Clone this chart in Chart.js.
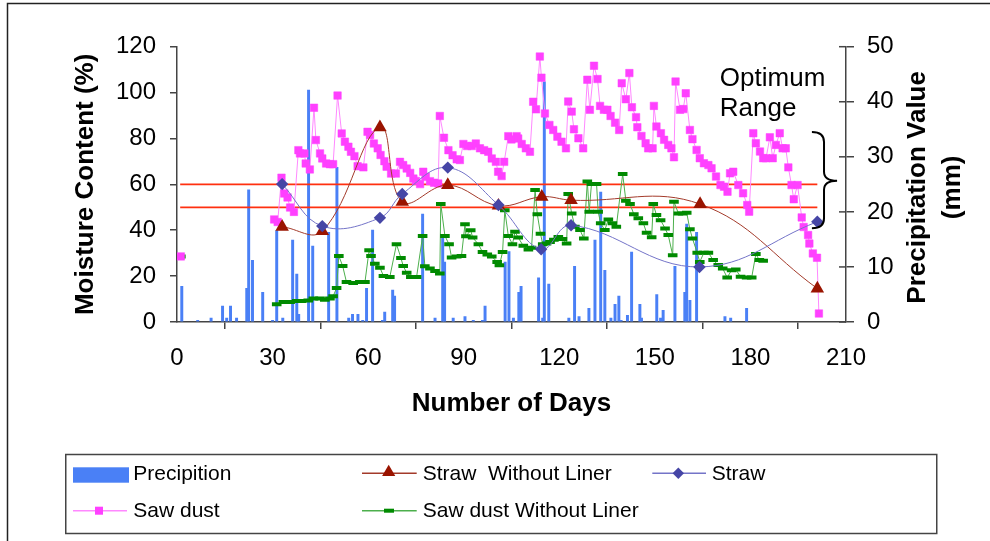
<!DOCTYPE html>
<html>
<head>
<meta charset="utf-8">
<script src="https://cdn.jsdelivr.net/npm/chart.js@4/dist/chart.umd.min.js"></script>
<style>
html,body{margin:0;padding:0;background:#fff;}
#wrap{position:relative;width:990px;height:541px;overflow:hidden;}
canvas{display:block;}
</style>
</head>
<body>
<div id="wrap"><canvas id="c" width="990" height="541"></canvas></div>
<script>
// ---------- DATA ----------
const xTickLabels = [0, 30, 60, 90, 120, 150, 180, 210];

const precipDays = [1.5,6.5,10.7,14.3,15.6,16.8,18.7,21.9,22.5,23.7,26.9,30,31.3,33.2,36.3,37.6,38.2,41.3,42.6,47.6,50.2,53.9,55.1,56.8,58.3,59.5,61.4,64.5,65.2,67.7,68.3,77.1,81,83.4,84,86.7,90.4,93,95.9,96.7,103,104.2,105.6,107.3,108,113.5,114.8,115.3,116.7,123,124.8,126.2,129.3,131.2,133,134.3,136.2,137.5,138.7,139.4,141.4,142.7,145.3,145.8,150.6,151.8,152.6,156.3,159.4,160,161,163.1,172,173.8,178.8];
const precipMm   = [6.5,0.3,0.7,2.9,0.7,2.9,0.7,6.1,24,11.2,5.4,0.3,16.6,0.7,14.9,8.7,1.4,42.1,13.8,16.3,28.1,0.7,1.4,1.4,0.3,6.1,16.7,0.3,1.8,5.8,4.7,19.6,0.7,15.9,10.9,0.7,1.0,0.3,0.3,2.9,10.9,12.8,0.7,5.4,6.5,8,0.7,43.6,6.9,0.7,10.1,1.0,2.5,14.9,23.6,9.4,0.7,3.2,4.7,0.3,1.2,12.7,3.2,0.7,5.0,0.7,2.1,10.1,5.4,17.8,3.95,16.3,1.0,0.7,2.5];

const strawNoLinerDays = [33,45.6,63.7,70.7,85,100.9,114.5,123.7,164.2,201];
const strawNoLinerMoisture = [41.5,39.6,84.9,52.4,59.7,50.7,54.6,53.1,51.4,14.6];

const strawDays = [33,45.6,63.7,70.7,85,100.9,114.3,123.7,164,201];
const strawMoisture = [60.1,41.8,45.4,55.8,67.3,51,31.7,42.2,24,43.7];

const sawDustDays = [1.2,2,30.5,31.6,32.8,33.7,34.7,35.5,36.7,38.1,38.6,40,40.4,41.7,43,43.6,44.9,45.6,46.8,48,49,50.4,51.7,52.7,53.8,54.6,55.7,56.7,58.5,59.8,60.6,61.8,63,63.9,65.1,65.8,67.2,68.7,70,71,72.1,73.2,74.2,75,76.3,77.3,78.1,79.4,80.7,82,82.5,83.8,85.2,86.5,87.8,88.8,89.9,91.1,92.5,93.8,95.1,96.4,97.7,98.8,100.1,100.8,101.9,102.7,104,105,106.6,107.1,108.2,109.5,110.8,111.8,112.7,113.9,114.4,115.5,116.9,118.1,119.4,120.7,122.1,122.8,123.9,124.6,126,127.5,128.8,129.6,130.9,132,132.8,134,135.1,136.1,137.5,138.8,139.6,140.9,142,142.8,144.1,144.5,145.8,147.1,147.9,149.3,149.7,150.5,151.9,152.9,154.2,155.2,156,156.5,157.9,158.9,159.7,161,161.8,163.1,164.1,165.4,166.8,167.8,169.2,170.6,171.7,172.8,173.6,174.6,176.2,177.7,179,179.6,180.9,181.7,183,184,184.9,186.1,187,188,189.2,190.1,191.1,191.9,192.9,193.6,194.8,196.1,196.7,198.1,198.5,199.6,200.9,201.5];
const sawDustMoisture = [28.6,null,44.7,43.6,62.9,56,54.3,49.9,48,74.9,73.5,73.5,69.1,66.5,93.4,79.3,73.5,71.3,69.1,68.8,68.8,98.7,82.2,78.6,76.4,74.2,72.3,67.9,67.4,82.9,81.5,77.8,75.7,72.8,70.1,67.7,64.7,64.7,69.8,68.4,66.9,65,62.5,61.5,60.1,65.5,63.3,61.4,60.7,60.4,89.8,80.3,74.9,72.7,70.9,70.6,77.6,76.7,76.7,77.8,75.7,74.9,74.2,71.3,69.8,65.5,63.6,69.8,81,79.6,81,80,77.6,75.7,74.2,96,92.7,115.7,106.5,90.9,85.9,83.7,80.8,78.6,75.7,96.1,91.7,84,80.1,75.7,105.6,92.5,111.7,105.9,94.2,92.5,92.5,89.8,86.9,83.7,104.1,97.1,108.5,93.6,89.3,84.9,81.1,77.9,75.7,75.7,94.2,85.2,82.3,79.4,77.2,75.7,71.8,104.8,92.5,92.8,99.7,83.7,79.7,75,71.4,69.2,68.4,67,63.4,59.7,59,56.8,64.8,65.5,59.7,56.1,51,48.1,82.3,77.9,74.3,71.4,71.4,80.5,71.4,77.2,82.3,75.7,75.7,67.4,59.7,53.5,59.7,45.6,41.4,37.9,34.2,29.9,28,3.7];

const sawDustNoLinerDays = [1.2,2,31.3,33.4,35.5,37.6,39.1,41.2,42.8,44.9,46.4,48,49,50.1,50.8,52,53.2,55.3,57.4,59,60.3,60.9,62.1,63.7,64.8,66.8,68.9,70.3,71,72.1,73.4,75.2,77.1,77.8,79.4,81,82.5,82.8,84.1,85.4,86.2,87.8,89.3,90.4,90.7,92.2,92.8,94.6,95.9,97.4,98.8,100.5,101.2,102.2,102.9,104,105.3,106.1,107.1,108.7,110.3,111.3,112.4,113.1,114.1,114.8,116,117.1,118.3,119.7,121,122.3,122.8,123.9,124.9,126.5,127.7,128.8,129.4,130.1,131.7,132.2,133,134.3,135.4,136.7,137.9,139.9,140.9,142.2,143.4,144.8,146.4,147.4,149,149.5,150.5,151.8,153.2,154.2,155.6,156,157.4,158.7,160,161,161.8,163.3,164.1,165.4,166.8,168.3,169.9,171.3,172.7,174.1,175.4,176.9,178.8,180.4,181.7,182.8,184];
const sawDustNoLinerMoisture = [28.6,null,7.7,8.7,8.7,9.1,9.1,9.4,10.2,10.2,9.7,10.2,11.2,14.8,28.8,24.4,17.4,17,17.4,17.4,31.3,28.8,25.4,23.7,20.1,19.6,33.9,27.9,24.4,21.5,19.6,19.6,37.5,24.3,23.3,22.2,21.1,51.4,37.5,33.9,28.1,28.6,28.8,42.6,37.4,40,36.8,33.9,30.5,29.4,28.6,26.2,24.7,30.5,48.7,37.5,33.9,39.3,36.8,33.2,31.6,32.4,57.5,47,38.5,33.9,34.2,34.9,35.9,37.1,36.2,34.2,55.8,47.3,41.5,40.1,36.4,61.2,48.1,60.2,60.2,48.1,43,40.1,44.7,43,41.5,64.5,52.9,51.4,47,45.2,43,38.9,36.9,51.4,46.6,44.4,40.8,37.9,29.1,52.4,47.3,47.3,47.6,40.4,36.4,30.2,26.2,30.2,30.2,27,24.8,23.3,19.4,22.6,22.9,19.7,19.4,19.4,29.6,27,26.7];

const optimumLimits = [60, 50];
const optimumLineDays = [1, 201];

const seriesNames = ['Precipition', 'Straw  Without Liner', 'Straw', 'Saw dust', 'Saw dust Without Liner'];

// ---------- HELPERS ----------
const FONT = "'Liberation Sans', Arial, Helvetica, sans-serif";
const pts = (xs, ys) => xs.map((x, i) => ({x: x, y: ys[i]}));

const COL = {
  precip: '#4a80f6',
  pinkLine: '#ff88ff', pinkPt: '#ff40ff',
  greenLine: '#4caf4c', greenPt: '#008a00',
  redLine: '#a33a2a', redPt: '#9a1400',
  blueLine: '#7474c8', bluePt: '#4646a6',
  optimum: '#ff3010', axis: '#444444'
};

function tri(ctx, x, y, r) {
  ctx.beginPath();
  for (let k = 0; k < 3; k++) {
    const a = -Math.PI / 2 + k * 2 * Math.PI / 3;
    const px = x + Math.cos(a) * r, py = y + Math.sin(a) * r;
    if (k === 0) ctx.moveTo(px, py); else ctx.lineTo(px, py);
  }
  ctx.closePath(); ctx.fill();
}

const decor = {
  id: 'decor',
  afterDraw(chart) {
    const ctx = chart.ctx;
    const xs = chart.scales.x, ys = chart.scales.y, y2 = chart.scales.y2;
    ctx.save();
    // inward part of right-axis ticks
    ctx.strokeStyle = COL.axis; ctx.lineWidth = 1.5;
    y2.ticks.forEach(t => {
      const py = y2.getPixelForValue(t.value);
      ctx.beginPath(); ctx.moveTo(y2.left - 7, py); ctx.lineTo(y2.left, py); ctx.stroke();
    });
    // right axis title (reads bottom to top)
    ctx.fillStyle = '#000';
    ctx.font = 'bold 26px ' + FONT;
    ctx.textAlign = 'center'; ctx.textBaseline = 'middle';
    const cy = (ys.top + ys.bottom) / 2 + 3;
    ctx.save(); ctx.translate(918, cy); ctx.rotate(-Math.PI / 2);
    ctx.fillText('Precipitation Value', 0, 0); ctx.restore();
    ctx.save(); ctx.translate(953, cy); ctx.rotate(-Math.PI / 2);
    ctx.fillText('(mm)', 0, 0); ctx.restore();

    // Optimum Range label
    ctx.font = '26px ' + FONT;
    ctx.textAlign = 'left'; ctx.textBaseline = 'alphabetic';
    ctx.fillText('Optimum', xs.getPixelForValue(170.4), ys.getPixelForValue(102.7));
    ctx.fillText('Range', xs.getPixelForValue(170.4), ys.getPixelForValue(89.6));

    // curly brace
    const bx0 = xs.getPixelForValue(199.3), bxm = xs.getPixelForValue(203.1), bxt = xs.getPixelForValue(207.2);
    const byT = ys.getPixelForValue(82.8), byM = ys.getPixelForValue(61.6), byB = ys.getPixelForValue(40.9);
    ctx.strokeStyle = '#000'; ctx.lineWidth = 2;
    ctx.beginPath();
    ctx.moveTo(bx0, byT);
    ctx.quadraticCurveTo(bxm, byT, bxm, byT + 10);
    ctx.lineTo(bxm, byM - 9);
    ctx.quadraticCurveTo(bxm, byM, bxt, byM);
    ctx.quadraticCurveTo(bxm, byM, bxm, byM + 9);
    ctx.lineTo(bxm, byB - 10);
    ctx.quadraticCurveTo(bxm, byB, bx0, byB);
    ctx.stroke();

    // outer frame (left and top edges)
    ctx.strokeStyle = '#222'; ctx.lineWidth = 1.5;
    ctx.beginPath(); ctx.moveTo(7.5, 545); ctx.lineTo(7.5, 3.5); ctx.lineTo(995, 3.5); ctx.stroke();

    // legend box
    ctx.strokeStyle = '#444'; ctx.lineWidth = 1.5;
    ctx.strokeRect(65.75, 454.5, 871, 79);
    ctx.font = '21px ' + FONT; ctx.fillStyle = '#000';
    ctx.textAlign = 'left'; ctx.textBaseline = 'alphabetic';
    const r1 = 473.3, r2 = 510.7, b1 = 479.5, b2 = 517.3;
    // Precipition
    ctx.fillStyle = COL.precip; ctx.fillRect(73, 467.3, 56, 15.4);
    ctx.fillStyle = '#000'; ctx.fillText(seriesNames[0], 133.3, b1);
    // Saw dust
    ctx.strokeStyle = COL.pinkLine; ctx.lineWidth = 1.5;
    ctx.beginPath(); ctx.moveTo(73, r2); ctx.lineTo(127, r2); ctx.stroke();
    ctx.fillStyle = COL.pinkPt; ctx.fillRect(95, r2 - 4, 8, 8);
    ctx.fillStyle = '#000'; ctx.fillText(seriesNames[3], 133.3, b2);
    // Straw Without Liner
    ctx.strokeStyle = COL.redLine; ctx.lineWidth = 1.5;
    ctx.beginPath(); ctx.moveTo(362, r1); ctx.lineTo(416.7, r1); ctx.stroke();
    ctx.fillStyle = COL.redPt; tri(ctx, 388.7, r1 - 1, 7.6);
    ctx.fillStyle = '#000'; ctx.fillText(seriesNames[1], 422.7, b1);
    // Saw dust Without Liner
    ctx.strokeStyle = COL.greenLine; ctx.lineWidth = 1.5;
    ctx.beginPath(); ctx.moveTo(362, r2); ctx.lineTo(416.7, r2); ctx.stroke();
    ctx.fillStyle = COL.greenPt; ctx.fillRect(384, r2 - 2, 10, 4);
    ctx.fillStyle = '#000'; ctx.fillText(seriesNames[4], 422.7, b2);
    // Straw
    ctx.strokeStyle = COL.blueLine; ctx.lineWidth = 1.5;
    ctx.beginPath(); ctx.moveTo(652.3, r1); ctx.lineTo(706, r1); ctx.stroke();
    ctx.fillStyle = COL.bluePt;
    ctx.beginPath(); ctx.moveTo(678.3, r1 - 5.7); ctx.lineTo(684, r1); ctx.lineTo(678.3, r1 + 5.7); ctx.lineTo(672.6, r1); ctx.closePath(); ctx.fill();
    ctx.fillStyle = '#000'; ctx.fillText(seriesNames[2], 711.7, b1);
    ctx.restore();
  }
};

const tickFont = {family: FONT, size: 24};
const titleFont = {family: FONT, size: 26, weight: 'bold'};

new Chart(document.getElementById('c'), {
  type: 'line',
  data: {
    datasets: [
      {
        type: 'bar', label: seriesNames[0], yAxisID: 'y2',
        data: pts(precipDays, precipMm),
        backgroundColor: COL.precip, barThickness: 2.3, order: 10
      },
      {
        label: 'opt60', data: pts(optimumLineDays, [optimumLimits[0], optimumLimits[0]]),
        borderColor: COL.optimum, borderWidth: 1.8, pointRadius: 0, order: 9
      },
      {
        label: 'opt50', data: pts(optimumLineDays, [optimumLimits[1], optimumLimits[1]]),
        borderColor: COL.optimum, borderWidth: 1.8, pointRadius: 0, order: 9
      },
      {
        label: seriesNames[4], data: pts(sawDustNoLinerDays, sawDustNoLinerMoisture),
        borderColor: COL.greenLine, borderWidth: 1, tension: 0,
        pointStyle: 'line', pointRadius: 4.8, pointBorderWidth: 4,
        pointBorderColor: COL.greenPt, pointBackgroundColor: COL.greenPt, order: 5
      },
      {
        label: seriesNames[3], data: pts(sawDustDays, sawDustMoisture),
        borderColor: COL.pinkLine, borderWidth: 1, tension: 0,
        pointStyle: 'rect', pointRadius: 5.3, pointBorderWidth: 0.5,
        pointBorderColor: COL.pinkPt, pointBackgroundColor: COL.pinkPt, order: 4
      },
      {
        label: seriesNames[1], data: pts(strawNoLinerDays, strawNoLinerMoisture),
        borderColor: COL.redLine, borderWidth: 1, tension: 0.4,
        pointStyle: 'triangle', pointRadius: 7.8, pointBorderWidth: 0,
        pointBackgroundColor: COL.redPt, pointBorderColor: COL.redPt, order: 3
      },
      {
        label: seriesNames[2], data: pts(strawDays, strawMoisture),
        borderColor: COL.blueLine, borderWidth: 1, tension: 0.4,
        pointStyle: 'rectRot', pointRadius: 6.2, pointBorderWidth: 0,
        pointBackgroundColor: COL.bluePt, pointBorderColor: COL.bluePt, order: 2
      }
    ]
  },
  options: {
    responsive: false, animation: false, events: [],
    layout: {padding: {left: 0, right: 0, top: 46.7, bottom: 110}},
    plugins: {legend: {display: false}, tooltip: {enabled: false}},
    scales: {
      x: {
        type: 'linear', min: 0, max: 210, offset: false,
        afterBuildTicks(s) { s.ticks = xTickLabels.map(v => ({value: v})); },
        ticks: {font: tickFont, color: '#000', padding: 15, maxRotation: 0},
        grid: {drawOnChartArea: false, tickLength: 7, color: COL.axis, lineWidth: 1.5},
        border: {color: COL.axis, width: 1.5},
        title: {display: true, text: 'Number of Days', font: titleFont, color: '#000', padding: {top: 0, bottom: 11.4}},
        afterFit(s) { s.height = 541 - 110 - 322; }
      },
      y: {
        position: 'left', min: 0, max: 120,
        ticks: {stepSize: 20, font: tickFont, color: '#000', padding: 14},
        grid: {drawOnChartArea: false, tickLength: 7, color: COL.axis, lineWidth: 1.5},
        border: {color: COL.axis, width: 1.5},
        title: {display: true, text: 'Moisture Content (%)', font: titleFont, color: '#000', padding: {top: 70.4, bottom: 0}},
        afterFit(s) { s.width = 177; }
      },
      y2: {
        position: 'right', min: 0, max: 50,
        ticks: {stepSize: 10, font: tickFont, color: '#000', padding: 13},
        grid: {drawOnChartArea: false, tickLength: 8, color: COL.axis, lineWidth: 1.5},
        border: {color: COL.axis, width: 1.5},
        afterFit(s) { s.width = 144; }
      }
    }
  },
  plugins: [decor]
});
</script>
</body>
</html>
